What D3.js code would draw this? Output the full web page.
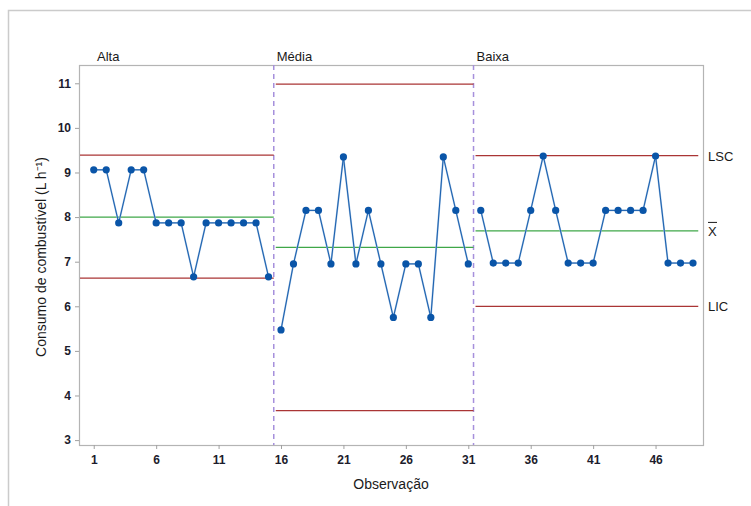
<!DOCTYPE html>
<html>
<head>
<meta charset="utf-8">
<script src="https://cdn.jsdelivr.net/npm/d3@7"></script>
<style>
  body { margin: 0; background: #fff; }
  svg { display: block; font-family: "Liberation Sans", Arial, sans-serif; }
  .tick text { font-size: 12px; font-weight: bold; fill: #1c1c2c; }
</style>
</head>
<body>
<div id="chart"></div>
<script>
// stages of the control chart
var stages = ["Alta", "Média", "Baixa"];
var stageStart = [1, 16, 32];
var stageEnd = [15, 31, 49];

// observations, one array per stage
var alta = [9.06, 9.06, 7.87, 9.06, 9.06, 7.87, 7.87, 7.87, 6.66, 7.87, 7.87, 7.87, 7.87, 7.87, 6.66];
var media = [5.47, 6.95, 8.15, 8.15, 6.95, 9.35, 6.95, 8.15, 6.95, 5.75, 6.95, 6.95, 5.75, 9.35, 8.15, 6.95];
var baixa = [8.15, 6.97, 6.97, 6.97, 8.15, 9.37, 8.15, 6.97, 6.97, 6.97, 8.15, 8.15, 8.15, 8.15, 9.37, 6.97, 6.97, 6.97];

// control limits per stage
var lsc = [9.39, 10.98, 9.38];
var media_x = [8.0, 7.32, 7.69];
var lic = [6.63, 3.66, 6.0];

var xTicks = [1, 6, 11, 16, 21, 26, 31, 36, 41, 46];
var yTicks = [3, 4, 5, 6, 7, 8, 9, 10, 11];

var W = 751, H = 506;
var margin = {left: 79, top: 65, right: 48, bottom: 61};
var width = W - margin.left - margin.right;
var height = H - margin.top - margin.bottom;

var svg = d3.select("#chart").append("svg")
  .attr("width", W)
  .attr("height", H);

// outer border
svg.append("path")
  .attr("d", "M8.5," + H + "V10.5H" + W)
  .attr("fill", "none")
  .attr("stroke", "#cbcbcb")
  .attr("stroke-width", 1.5);

var g = svg.append("g")
  .attr("transform", "translate(" + margin.left + "," + margin.top + ")");

var x = d3.scaleLinear().domain([-0.18, 49.8]).range([0, width]);
var y = d3.scaleLinear().domain([2.89, 11.41]).range([height, 0]);

// plot frame
g.append("rect")
  .attr("x", 0.5).attr("y", 0.5)
  .attr("width", width).attr("height", height)
  .attr("fill", "none")
  .attr("stroke", "#b4b4b4")
  .attr("stroke-width", 1.2);

var xAxis = g.append("g")
  .attr("transform", "translate(0," + height + ")")
  .call(d3.axisBottom(x).tickValues(xTicks).tickSize(4).tickPadding(4));
var yAxis = g.append("g")
  .call(d3.axisLeft(y).tickValues(yTicks).tickSize(4).tickPadding(4));
[xAxis, yAxis].forEach(function(a) {
  a.select(".domain").remove();
  a.selectAll(".tick line").attr("stroke", "#a0a0a0");
});
xAxis.selectAll(".tick text").attr("dy", "0.95em");

// stage dividers
[15.5, 31.5].forEach(function(v) {
  g.append("line")
    .attr("x1", x(v) - 1).attr("x2", x(v) - 1)
    .attr("y1", 0).attr("y2", height)
    .attr("stroke", "#a690dc")
    .attr("stroke-width", 1.5)
    .attr("stroke-dasharray", "5,4");
});

// control lines
stages.forEach(function(s, i) {
  var x0 = i == 0 ? 0 : x(stageStart[i] - 0.5);
  var x1 = x(stageEnd[i] + 0.5);
  if (i == 2) x1 = x(49.5);
  [[lsc[i], "#aa3535"], [media_x[i], "#3fa748"], [lic[i], "#aa3535"]].forEach(function(l) {
    g.append("line")
      .attr("x1", x0 + 1).attr("x2", x1 - 1)
      .attr("y1", y(l[0])).attr("y2", y(l[0]))
      .attr("stroke", l[1])
      .attr("stroke-width", 1.3);
  });
  svg.append("text")
    .attr("x", margin.left + x0 + (i == 0 ? 18 : 2))
    .attr("y", 61)
    .attr("font-size", 13)
    .attr("fill", "#1a1a1a")
    .text(s);
});

// data lines and points
var line = d3.line().x(function(d) { return x(d.obs); }).y(function(d) { return y(d.v); });
[alta, media, baixa].forEach(function(arr, i) {
  var pts = arr.map(function(v, j) { return {obs: stageStart[i] + j, v: v}; });
  g.append("path")
    .datum(pts)
    .attr("d", line)
    .attr("fill", "none")
    .attr("stroke", "#9dbde0")
    .attr("stroke-width", 1.8);
  g.append("path")
    .datum(pts)
    .attr("d", line)
    .attr("fill", "none")
    .attr("stroke", "#0a55a8")
    .attr("stroke-width", 0.9);
  g.selectAll(null)
    .data(pts)
    .enter().append("circle")
    .attr("cx", function(d) { return x(d.obs); })
    .attr("cy", function(d) { return y(d.v); })
    .attr("r", 3.6)
    .attr("fill", "#0a55a8");
});

// limit labels on the right
var rx = margin.left + width + 5;
svg.append("text").attr("x", rx).attr("y", margin.top + y(lsc[2]) + 5)
  .attr("font-size", 13).attr("fill", "#1a1a1a").text("LSC");
svg.append("text").attr("x", rx).attr("y", margin.top + y(media_x[2]) + 5)
  .attr("font-size", 13).attr("fill", "#1a1a1a").text("X");
svg.append("line")
  .attr("x1", rx).attr("x2", rx + 9)
  .attr("y1", margin.top + y(media_x[2]) - 8.5).attr("y2", margin.top + y(media_x[2]) - 8.5)
  .attr("stroke", "#1a1a1a").attr("stroke-width", 1);
svg.append("text").attr("x", rx).attr("y", margin.top + y(lic[2]) + 5)
  .attr("font-size", 13).attr("fill", "#1a1a1a").text("LIC");

// axis titles
svg.append("text")
  .attr("x", margin.left + width / 2)
  .attr("y", 489)
  .attr("text-anchor", "middle")
  .attr("font-size", 14)
  .attr("fill", "#1a1a1a")
  .text("Observação");

svg.append("text")
  .attr("transform", "translate(46," + (margin.top + height / 2 + 2) + ")rotate(-90)")
  .attr("text-anchor", "middle")
  .attr("font-size", 14)
  .attr("fill", "#1a1a1a")
  .text("Consumo de combustível (L h⁻¹)");
</script>
</body>
</html>
